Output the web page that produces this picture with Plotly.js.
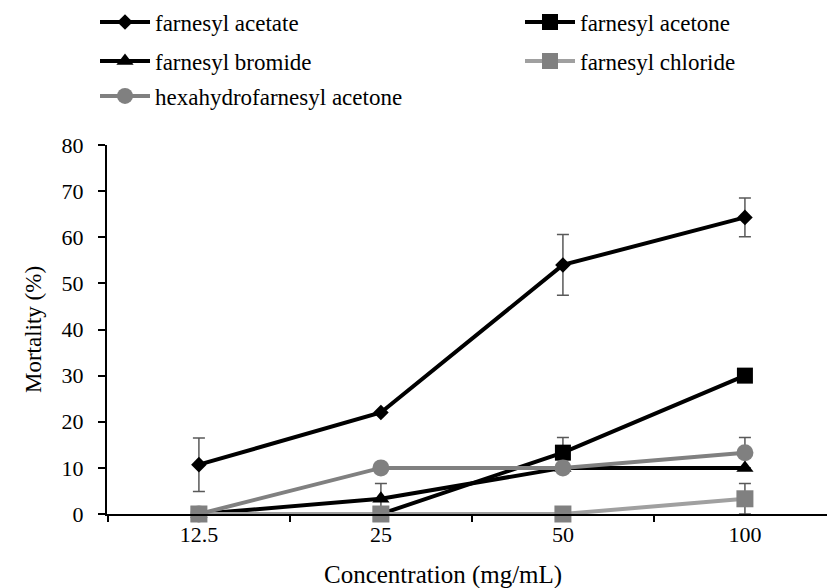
<!DOCTYPE html>
<html>
<head>
<meta charset="utf-8">
<script src="https://cdn.plot.ly/plotly-3.0.1.min.js"></script>
<style>html,body{margin:0;padding:0;background:#fff;}#chart{width:827px;height:588px;}</style>
</head>
<body>
<div id="chart"></div>
<script>
const concentrations = ["12.5", "25", "50", "100"];

const seriesNames = ['farnesyl acetate', 'farnesyl acetone', 'farnesyl bromide', 'farnesyl chloride', 'hexahydrofarnesyl acetone'];

const acetateMean = [10.7, 22.0, 54.0, 64.3];
const acetateErr = [5.8, null, 6.6, 4.2];

const acetoneMean = [0, 0, 13.3, 30.0];
const acetoneErr = [null, null, 3.3, null];

const bromideMean = [0, 3.3, 10.0, 10.0];
const bromideErr = [null, 3.3, null, null];

const chlorideMean = [0, 0, 0, 3.3];
const chlorideErr = [null, null, null, 3.3];

const hexahydroMean = [0, 10.0, 10.0, 13.3];
const hexahydroErr = [null, null, null, 3.3];

const yTicks = [0, 10, 20, 30, 40, 50, 60, 70, 80];

const SERIF = "'Liberation Serif', 'Times New Roman', serif";

const means = [acetateMean, acetoneMean, bromideMean, chlorideMean, hexahydroMean];
const errs = [acetateErr, acetoneErr, bromideErr, chlorideErr, hexahydroErr];
const styles = [
  {line: {color: '#000', width: 4}, marker: {symbol: 'diamond', size: 12, color: '#000'}},
  {line: {color: '#000', width: 4}, marker: {symbol: 'square', size: 16, color: '#000'}},
  {line: {color: '#000', width: 4}, marker: {symbol: 'triangle-up', size: 15, color: '#000'}},
  {line: {color: '#a0a0a0', width: 4}, marker: {symbol: 'square', size: 17, color: '#808080'}},
  {line: {color: '#808080', width: 4}, marker: {symbol: 'circle', size: 17, color: '#808080'}}
];
const legendIds = ['legend', 'legend2', 'legend3', 'legend4', 'legend5'];

// error bars drawn first (underneath all series, as in the original)
const errorTraces = means.map((m, i) => ({
  x: concentrations, y: m, mode: 'markers', marker: {size: 1, opacity: 0},
  error_y: {type: 'data', array: errs[i], visible: true, color: '#595959', thickness: 1.5, width: 6},
  showlegend: false, hoverinfo: 'skip', cliponaxis: false
}));

const seriesTraces = means.map((m, i) => ({
  name: seriesNames[i], x: concentrations, y: m, mode: 'lines+markers',
  line: styles[i].line, marker: styles[i].marker, cliponaxis: false, legend: legendIds[i]
}));

const legendBase = {
  orientation: 'h', xref: 'container', yref: 'container', xanchor: 'left', yanchor: 'middle',
  font: {family: SERIF, size: 23, color: '#000'}, bgcolor: 'rgba(0,0,0,0)',
  itemwidth: 50, itemclick: false, itemdoubleclick: false
};
const col1 = 95 / 827, col2 = 520 / 827;
const row1 = 1 - 22 / 588, row2 = 1 - 61 / 588, row3 = 1 - 96 / 588;

const layout = {
  width: 827, height: 588,
  margin: {l: 107, r: 0, t: 145, b: 73.5},
  paper_bgcolor: '#fff', plot_bgcolor: '#fff',
  showlegend: true,
  legend: Object.assign({}, legendBase, {x: col1, y: row1}),
  legend2: Object.assign({}, legendBase, {x: col2, y: row1}),
  legend3: Object.assign({}, legendBase, {x: col1, y: row2}),
  legend4: Object.assign({}, legendBase, {x: col2, y: row2}),
  legend5: Object.assign({}, legendBase, {x: col1, y: row3}),
  xaxis: {
    type: 'category', categoryarray: concentrations, categoryorder: 'array',
    range: [-0.505, 3.451], tickson: 'boundaries', ticks: 'outside', ticklen: 6, tickwidth: 1.5, tickcolor: '#000',
    showline: true, linecolor: '#000', linewidth: 2, showgrid: false, zeroline: false,
    tickfont: {family: SERIF, size: 22, color: '#000'}, fixedrange: true
  },
  yaxis: {
    range: [0, 80], tickvals: yTicks, ticktext: yTicks.map(String), ticks: 'outside', ticklen: 7, tickwidth: 2, tickcolor: '#000',
    showline: true, linecolor: '#000', linewidth: 2, showgrid: false, zeroline: false,
    tickfont: {family: SERIF, size: 22, color: '#000'}, ticklabelstandoff: 10,
    title: {text: 'Mortality (%)', font: {family: SERIF, size: 23, color: '#000'}, standoff: 14},
    fixedrange: true
  },
  annotations: [
    {text: 'Concentration (mg/mL)', xref: 'paper', yref: 'paper', x: (443 - 107) / 720, y: -0.165,
     xanchor: 'center', yanchor: 'middle', showarrow: false, font: {family: SERIF, size: 25, color: '#000'}}
  ]
};

Plotly.newPlot('chart', errorTraces.concat(seriesTraces), layout, {staticPlot: true, displayModeBar: false});
</script>
</body>
</html>
